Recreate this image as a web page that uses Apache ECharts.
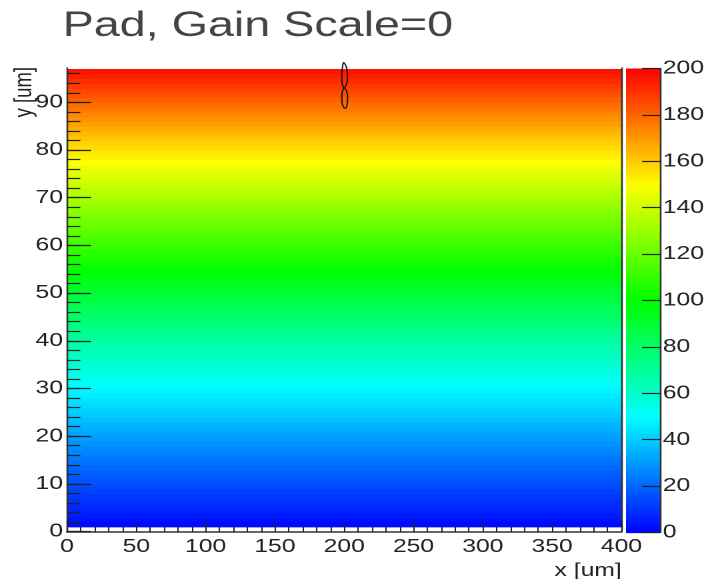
<!DOCTYPE html>
<html>
<head>
<meta charset="utf-8">
<script src="https://cdn.jsdelivr.net/npm/echarts@6/dist/echarts.min.js"></script>
<style>
html,body{margin:0;padding:0;background:#fff;overflow:hidden;}
#c{width:531px;height:579px;transform:scaleX(1.33333);transform-origin:0 0;}
</style>
</head>
<body>
<div id="c"></div>
<script>
// ---- data ----
const xRange = [0, 400];
const yMax = 97.2;
const yBinStart = 1;      // first y bin lower edge (um)
const bandHeight = 1;     // y bin width (um)
// field value per 1-um y bin (bin centres 1.5 ... 96.5)
const fieldValues = [
  2.2,3.8,5.3,6.8,8.3,9.8,11.3,12.8,14.3,15.8,
  17.3,18.9,20.6,22.4,24.1,25.8,27.3,28.9,30.6,32.4,
  34.1,35.9,37.6,39.4,41.1,42.9,44.6,46.3,47.8,49.5,
  51.5,53.5,55.5,57.5,59.5,61.5,63.5,65.5,67.5,69.5,
  71.5,73.6,75.9,78,80,82.1,84.4,86.6,88.4,90.6,
  92.9,95.1,97.4,99.6,101.5,103.6,105.9,108,110,112.1,
  114.4,116.6,118.9,121,123,125.1,127.4,129.6,131.9,134.1,
  136.4,138.6,140.9,143,145,147.3,149.8,152.1,154.4,156.6,
  158.9,161.3,163.8,166.3,168.8,171.3,173.8,176.3,178.8,181.3,
  183.8,186.3,188.8,191.3,193.8,196.3
];
const yMajorTicks = [0,10,20,30,40,50,60,70,80,90];
const yMinorTicks = [0,2,4,6,8,10,12,14,16,18,20,22,24,26,28,30,32,34,36,38,40,42,44,46,48,
                     50,52,54,56,58,60,62,64,66,68,70,72,74,76,78,80,82,84,86,88,90,92,94,96];
const colorRange = [0, 200];
const paletteColors = ['#0000ff','#00ffff','#00ff00','#ffff00','#ff0000'];
const contourUpperX = [199.5,201.0,202.0,202.4,202.0,200.0,198.5,198.2,198.5,199.0,199.5];
const contourUpperY = [98.4,97.8,96.8,95.4,94.2,93.1,94.0,95.3,96.8,97.9,98.4];
const contourLowerX = [200.0,201.6,202.4,202.2,200.7,199.0,198.3,198.3,199.0,200.0];
const contourLowerY = [93.1,92.4,91.2,89.8,88.7,89.3,90.3,91.6,92.6,93.1];

// ---- build series data ----
const fieldData = fieldValues.map((v, i) => {
  const lo = yBinStart + i * bandHeight;
  return [xRange[0], xRange[1], lo, lo + bandHeight, v];
});
const barData = [];
for (let v = colorRange[0]; v < colorRange[1]; v++) barData.push([0, 1, v, v + 1, v + 0.5]);
const upper = contourUpperX.map((x, i) => [x, contourUpperY[i]]);
const lower = contourLowerX.map((x, i) => [x, contourLowerY[i]]);

const FONT = 'Liberation Sans, Arial, Helvetica, sans-serif';
const TXT = '#222';

function bandRender(params, api) {
  const p0 = api.coord([api.value(0), api.value(2)]);
  const p1 = api.coord([api.value(1), api.value(3)]);
  return {
    type: 'rect',
    shape: { x: p0[0], y: p1[1], width: p1[0] - p0[0], height: p0[1] - p1[1] + 0.6 },
    style: { fill: api.visual('color') }
  };
}

const chart = echarts.init(document.getElementById('c'), null, { devicePixelRatio: 2 });
chart.setOption({
  animation: false,
  backgroundColor: '#fff',
  title: {
    text: 'Pad, Gain Scale=0', left: 42, top: 4,
    textStyle: { fontFamily: FONT, fontSize: 35, fontWeight: 'normal', color: '#444' }
  },
  graphic: [
    { type: 'text', x: 18.5, y: 67, rotation: Math.PI / 2,
      style: { text: 'y [um]', fontFamily: FONT, fontSize: 18.5, fill: TXT, align: 'right', verticalAlign: 'middle' } },
    { type: 'text', x: 466.3, y: 571,
      style: { text: 'x [um]', fontFamily: FONT, fontSize: 18.5, fill: TXT, align: 'right', verticalAlign: 'middle' } }
  ],
  grid: [
    { left: 50.25, right: 64.9, top: 68, bottom: 47.4 },
    { left: 469.5, right: 34.5, top: 68.5, bottom: 46.5 }
  ],
  visualMap: {
    type: 'continuous', show: false, min: colorRange[0], max: colorRange[1],
    dimension: 4, seriesIndex: [0, 1], inRange: { color: paletteColors }
  },
  xAxis: [
    { type: 'value', gridIndex: 0, min: xRange[0], max: xRange[1], interval: 50, z: 10,
      axisLine: { show: true, onZero: false, lineStyle: { color: '#333', width: 1.6 } },
      axisTick: { show: true, inside: true, length: 11, lineStyle: { color: TXT, width: 1 } },
      minorTick: { show: true, splitNumber: 5, length: 5, lineStyle: { color: TXT, width: 1 } },
      axisLabel: { margin: 6, fontFamily: FONT, fontSize: 18.5, color: TXT },
      splitLine: { show: false } },
    { type: 'value', gridIndex: 1, min: 0, max: 1, show: false }
  ],
  yAxis: [
    { type: 'value', gridIndex: 0, min: 0, max: yMax, position: 'left', z: 10,
      axisLine: { show: true, onZero: false, lineStyle: { color: '#333', width: 1.3 } },
      axisTick: { show: true, inside: true, length: 18, customValues: yMajorTicks, lineStyle: { color: TXT, width: 1.2 } },
      axisLabel: { margin: 3, customValues: yMajorTicks, fontFamily: FONT, fontSize: 18.5, color: TXT, padding: [7, 0, 0, 0] },
      splitLine: { show: false } },
    { type: 'value', gridIndex: 0, min: 0, max: yMax, position: 'left', z: 10,
      axisLine: { show: false },
      axisTick: { show: true, inside: true, length: 10, customValues: yMinorTicks, lineStyle: { color: TXT, width: 1.2 } },
      axisLabel: { show: false }, splitLine: { show: false } },
    { type: 'value', gridIndex: 0, min: 0, max: yMax, position: 'right', z: 10,
      axisLine: { show: true, onZero: false, lineStyle: { color: '#333', width: 1.3 } },
      axisTick: { show: false }, axisLabel: { show: false }, splitLine: { show: false } },
    { type: 'value', gridIndex: 1, min: colorRange[0], max: colorRange[1], interval: 20, position: 'right', z: 10,
      axisLine: { show: true, onZero: false, lineStyle: { color: '#333', width: 1.3 } },
      axisTick: { show: true, inside: true, length: 13.5, lineStyle: { color: TXT, width: 1.2 } },
      axisLabel: { margin: 2, fontFamily: FONT, fontSize: 18.5, color: TXT, padding: [3, 0, 0, 0] },
      splitLine: { show: false } }
  ],
  series: [
    { type: 'custom', xAxisIndex: 0, yAxisIndex: 0, data: fieldData, renderItem: bandRender,
      encode: { x: [0, 1], y: [2, 3] }, clip: false, z: 1 },
    { type: 'custom', xAxisIndex: 1, yAxisIndex: 3, data: barData, renderItem: bandRender,
      encode: { x: [0, 1], y: [2, 3] }, z: 1 },
    { type: 'line', xAxisIndex: 0, yAxisIndex: 0, data: upper, smooth: 0.4, symbol: 'none', clip: false,
      lineStyle: { color: '#111', width: 1 }, z: 5 },
    { type: 'line', xAxisIndex: 0, yAxisIndex: 0, data: lower, smooth: 0.4, symbol: 'none', clip: false,
      lineStyle: { color: '#111', width: 1 }, z: 5 }
  ]
});
</script>
</body>
</html>
